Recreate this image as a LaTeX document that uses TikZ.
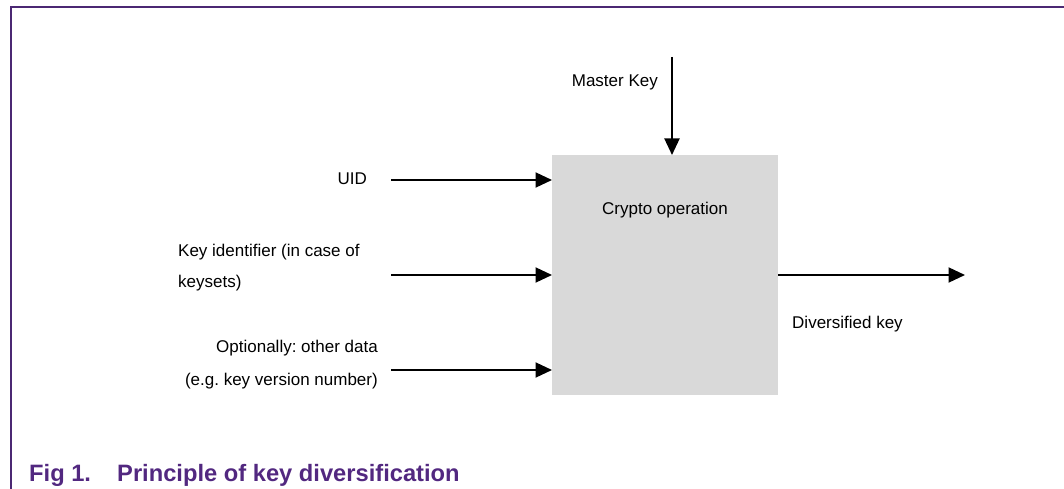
\documentclass[tikz,border=0pt]{standalone}
\usepackage{fontspec}
\setmainfont{Liberation Sans}
\usetikzlibrary{arrows.meta}
\definecolor{framepurple}{RGB}{75,40,115}
\definecolor{capurple}{RGB}{82,40,128}
\definecolor{boxgray}{RGB}{217,217,217}
\tikzset{
  lbl/.style={font=\fontsize{17}{31}\selectfont, inner sep=0pt, anchor=base},
  flow/.style={line width=2pt, -{Triangle[length=16.5pt,width=15pt]}},
  captxt/.style={font=\fontsize{23.7}{27}\selectfont\bfseries, text=capurple, inner sep=0pt, anchor=base west},
}
\begin{document}
\frenchspacing
\begin{tikzpicture}[x=1pt,y=-1pt]
\useasboundingbox (0,0) rectangle (1064,489);
% frame
\draw[framepurple, line width=1.5pt] (11,489) -- (11,7) -- (1064,7);
% box
\node[fill=boxgray, minimum width=226pt, minimum height=240pt, inner sep=0pt, anchor=north west] (box) at (552,155) {};
\node[lbl] (crypto) at (665,214) {Crypto operation};
% master key
\coordinate (mk) at (672,57);
\node[lbl, anchor=base east] (mklbl) at (658,87) {Master Key};
\draw[flow] (mk) -- (box.north -| mk);
% inputs
\coordinate (uid) at (391,180);
\coordinate (kid) at (391,275);
\coordinate (opt) at (391,370);
\node[lbl, anchor=base east] (uidlbl) at (367,184) {UID};
\node[lbl, anchor=base west] (kidlbl1) at (178,256) {Key identifier (in case of};
\node[lbl, anchor=base west] (kidlbl2) at (178,287) {keysets)};
\node[lbl, anchor=base east] (optlbl1) at (378,352) {Optionally: other data};
\node[lbl, anchor=base east] (optlbl2) at (378,385) {(e.g. key version number)};
\draw[flow] (uid) -- (box.west |- uid);
\draw[flow] (kid) -- (box.west |- kid);
\draw[flow] (opt) -- (box.west |- opt);
% output
\coordinate (out) at (965,275);
\draw[flow] (box.east |- out) -- (out);
\node[lbl, anchor=base west] (outlbl) at (792,328) {Diversified key};
% caption
\node[captxt] (fig) at (29,481) {Fig 1.};
\node[captxt] (cap) at (117,481) {Principle of key diversification};
\end{tikzpicture}
\end{document}
